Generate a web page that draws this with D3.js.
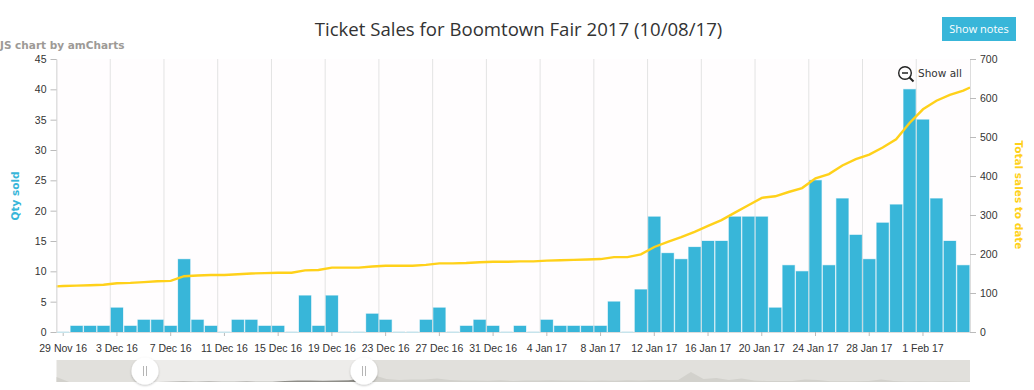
<!DOCTYPE html>
<html>
<head>
<meta charset="utf-8">
<script src="https://cdn.jsdelivr.net/npm/d3@7"></script>
<style>
  html, body { margin: 0; padding: 0; background: #fff; overflow: hidden; }
  svg { display: block; font-family: "DejaVu Sans", sans-serif; }
  .axis text { font-size: 10.5px; fill: #333; }
  .axis path { stroke: #ddd; }
  .axis line { stroke: #bbb; }
</style>
</head>
<body>
<svg id="chart" width="1034" height="390"></svg>
<script>
const days = [
  "29 Nov 16","30 Nov 16","1 Dec 16","2 Dec 16","3 Dec 16","4 Dec 16","5 Dec 16","6 Dec 16","7 Dec 16","8 Dec 16",
  "9 Dec 16","10 Dec 16","11 Dec 16","12 Dec 16","13 Dec 16","14 Dec 16","15 Dec 16","16 Dec 16","17 Dec 16","18 Dec 16",
  "19 Dec 16","20 Dec 16","21 Dec 16","22 Dec 16","23 Dec 16","24 Dec 16","25 Dec 16","26 Dec 16","27 Dec 16","28 Dec 16",
  "29 Dec 16","30 Dec 16","31 Dec 16","1 Jan 17","2 Jan 17","3 Jan 17","4 Jan 17","5 Jan 17","6 Jan 17","7 Jan 17",
  "8 Jan 17","9 Jan 17","10 Jan 17","11 Jan 17","12 Jan 17","13 Jan 17","14 Jan 17","15 Jan 17","16 Jan 17","17 Jan 17",
  "18 Jan 17","19 Jan 17","20 Jan 17","21 Jan 17","22 Jan 17","23 Jan 17","24 Jan 17","25 Jan 17","26 Jan 17","27 Jan 17",
  "28 Jan 17","29 Jan 17","30 Jan 17","31 Jan 17","1 Feb 17","2 Feb 17","3 Feb 17","4 Feb 17"
];
const qtySold = [
  0,1,1,1,4,1,2,2,1,12,
  2,1,0,2,2,1,1,0,6,1,
  6,0,0,3,2,0,0,2,4,0,
  1,2,1,0,1,0,2,1,1,1,
  1,5,0,7,19,13,12,14,15,15,
  19,19,19,4,11,10,25,11,22,16,
  12,18,21,40,35,22,15,11
];
const totalSales = [
  118,119,120,121,125,126,128,130,131,143,
  145,146,146,148,150,151,152,152,158,159,
  165,165,165,168,170,170,170,172,176,176,
  177,179,180,180,181,181,183,184,185,186,
  187,192,192,199,218,231,243,257,272,287,
  306,325,344,348,359,369,394,405,427,443,
  455,473,494,536,571,593,608,619
];
// line runs on past the visible window at both ends
const totalBefore = 117;
const totalAfter = 627;
const qtyTicks = [0,5,10,15,20,25,30,35,40,45];
const totalTicks = [0,100,200,300,400,500,600,700];
// scrollbar shows the whole sale period, evenly spaced samples
const overview = [
  20,0,0,0,0,0,0,0,0,1,
  2,1,2,1,1,2,1,1,4,6,
  6,5,6,7,12,28,12,8,10,10,
  14,8,6,6,5,7,4,6,6,7,
  6,6,5,6,5,7,6,8,8,8,
  40,12,16,8,14,6,4,4,4,10,
  8,3,3,3,4,10,4,2,3,2,
  3,2,2
];

const plotLeft = 56.5, plotRight = 970, plotTop = 59, plotBottom = 332;
const barColor = "#38b6d9", lineColor = "#ffd11a";
const svg = d3.select("#chart");

const x = d3.scaleBand().domain(days).range([plotLeft, plotRight]).paddingInner(0.1).paddingOuter(0.05);
const yQty = d3.scaleLinear().domain([0, 45]).range([plotBottom, plotTop]);
const yTotal = d3.scaleLinear().domain([0, 700]).range([plotBottom, plotTop]);
const labelled = days.filter((d, i) => i % 4 === 0);
const center = (d) => x(d) + x.bandwidth() / 2;

svg.append("rect")
  .attr("x", plotLeft).attr("y", plotTop)
  .attr("width", plotRight - plotLeft).attr("height", plotBottom - plotTop)
  .attr("fill", "#fffdfe");

// vertical grid sits on the left edge of each labelled day
svg.append("g").selectAll("line")
  .data(labelled)
  .join("line")
  .attr("x1", (d) => x(d) - x.step() * 0.05)
  .attr("x2", (d) => x(d) - x.step() * 0.05)
  .attr("y1", plotTop).attr("y2", plotBottom)
  .attr("stroke", "#e3e3e3");

svg.append("g").selectAll("rect")
  .data(days)
  .join("rect")
  .attr("x", (d) => x(d))
  .attr("width", x.bandwidth())
  .attr("y", (d, i) => yQty(qtySold[i]))
  .attr("height", (d, i) => plotBottom - yQty(qtySold[i]))
  .attr("fill", barColor)
  .attr("stroke", barColor)
  .attr("stroke-opacity", 0.3);

const linePoints = [[x.range()[0], totalBefore]]
  .concat(days.map((d, i) => [center(d), totalSales[i]]))
  .concat([[x.range()[1], totalAfter]]);
svg.append("path")
  .attr("d", d3.line().x((d) => d[0]).y((d) => yTotal(d[1]))(linePoints))
  .attr("fill", "none")
  .attr("stroke", lineColor)
  .attr("stroke-width", 2.4);

// axes
const xAxis = d3.axisBottom(x).tickValues(labelled).tickSize(4).tickPadding(9);
const gx = svg.append("g").attr("class", "axis").attr("transform", `translate(0,${plotBottom})`).call(xAxis);
gx.select(".domain").attr("d", `M${plotLeft},0.5H${plotRight}`);
svg.append("g").attr("class", "axis").attr("transform", `translate(${plotLeft},0)`)
  .call(d3.axisLeft(yQty).tickValues(qtyTicks).tickSize(6).tickPadding(4).tickSizeOuter(0));
svg.append("g").attr("class", "axis").attr("transform", `translate(${plotRight},0)`)
  .call(d3.axisRight(yTotal).tickValues(totalTicks).tickSize(6).tickPadding(4).tickSizeOuter(0));

// days with no sales still leave a pale stub on the baseline
svg.append("g").selectAll("rect")
  .data(days.filter((d, i) => qtySold[i] === 0))
  .join("rect")
  .attr("x", (d) => x(d))
  .attr("width", x.bandwidth())
  .attr("y", plotBottom - 0.5)
  .attr("height", 1.5)
  .attr("fill", "#c6e4ec");

// titles
svg.append("text")
  .attr("x", 518.5).attr("y", 36)
  .attr("text-anchor", "middle")
  .style("font-family", "'Open Sans', sans-serif")
  .style("font-size", "18.6px")
  .attr("fill", "#333")
  .text("Ticket Sales for Boomtown Fair 2017 (10/08/17)");

svg.append("text")
  .attr("x", 0).attr("y", 49)
  .style("font-size", "10.5px").style("font-weight", "bold")
  .attr("fill", "#9d9a96")
  .text("JS chart by amCharts");

svg.append("text")
  .attr("transform", "translate(19,196) rotate(-90)")
  .attr("text-anchor", "middle")
  .style("font-size", "10.5px").style("font-weight", "bold")
  .attr("fill", barColor)
  .text("Qty sold");

svg.append("text")
  .attr("transform", "translate(1015,195) rotate(90)")
  .attr("text-anchor", "middle")
  .style("font-size", "10.5px").style("font-weight", "bold")
  .attr("fill", lineColor)
  .text("Total sales to date");

// Show notes button
svg.append("rect")
  .attr("x", 942).attr("y", 17).attr("width", 74).attr("height", 24)
  .attr("fill", barColor);
svg.append("text")
  .attr("x", 979).attr("y", 33)
  .attr("text-anchor", "middle")
  .style("font-family", "'Open Sans', sans-serif")
  .style("font-size", "11px")
  .attr("fill", "#fff")
  .text("Show notes");

// zoom-out control
const zoomIcon = svg.append("g").attr("fill", "none").attr("stroke", "#222");
zoomIcon.append("circle").attr("cx", 905).attr("cy", 73).attr("r", 6.3).attr("stroke-width", 1.4);
zoomIcon.append("line").attr("x1", 902).attr("x2", 908).attr("y1", 73).attr("y2", 73).attr("stroke-width", 1.5);
zoomIcon.append("line").attr("x1", 909.5).attr("x2", 913.5).attr("y1", 77.5).attr("y2", 81.5).attr("stroke-width", 2);
svg.append("text")
  .attr("x", 918).attr("y", 77)
  .style("font-size", "10.5px")
  .attr("fill", "#333")
  .text("Show all");

// scrollbar
const sbTop = 360, sbBottom = 382, gripA = 145, gripB = 364;
const xOver = d3.scaleLinear().domain([0, overview.length - 1]).range([plotLeft, plotRight]);
const yOver = d3.scaleLinear().domain([0, 88]).range([sbBottom, sbTop]);
const overArea = d3.area()
  .x((d, i) => xOver(i))
  .y0(sbBottom)
  .y1((d) => yOver(d))(overview);

const defs = svg.append("defs");
defs.append("clipPath").attr("id", "sel").append("rect")
  .attr("x", gripA).attr("y", sbTop).attr("width", gripB - gripA).attr("height", sbBottom - sbTop);
const shadow = defs.append("filter").attr("id", "gripShadow")
  .attr("x", "-30%").attr("y", "-30%").attr("width", "160%").attr("height", "160%");
shadow.append("feDropShadow")
  .attr("dx", 0).attr("dy", 1).attr("stdDeviation", 1.2)
  .attr("flood-color", "#000").attr("flood-opacity", 0.25);

svg.append("rect")
  .attr("x", plotLeft).attr("y", sbTop)
  .attr("width", plotRight - plotLeft).attr("height", sbBottom - sbTop)
  .attr("fill", "#e1e0dc");
svg.append("path").attr("d", overArea).attr("fill", "#d2d1cc");
svg.append("rect")
  .attr("x", gripA).attr("y", sbTop)
  .attr("width", gripB - gripA).attr("height", sbBottom - sbTop)
  .attr("fill", "#edecea");
svg.append("path").attr("d", overArea).attr("fill", "#8f8e89").attr("clip-path", "url(#sel)");

[gripA, gripB].forEach((gx0) => {
  const grip = svg.append("g");
  grip.append("circle")
    .attr("cx", gx0).attr("cy", 371).attr("r", 13.5)
    .attr("fill", "#fff")
    .attr("filter", "url(#gripShadow)");
  [-1.5, 1.5].forEach((dx) => {
    grip.append("line")
      .attr("x1", gx0 + dx).attr("x2", gx0 + dx)
      .attr("y1", 366).attr("y2", 376)
      .attr("stroke", "#b5b5b5");
  });
});
</script>
</body>
</html>
